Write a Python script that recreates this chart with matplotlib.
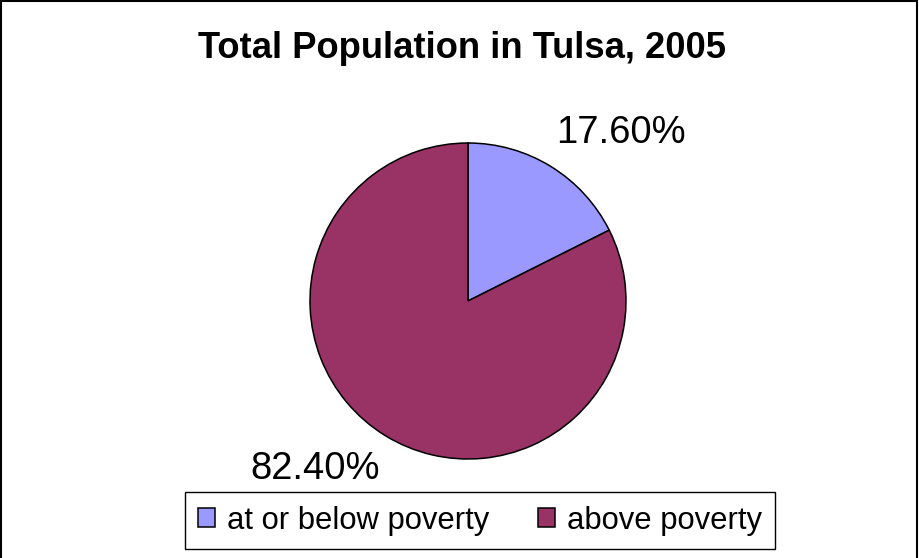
import numpy as np
import matplotlib
matplotlib.use("Agg")
import matplotlib.pyplot as plt
from matplotlib.patches import Rectangle

plt.rcParams['font.family'] = ['Liberation Sans', 'DejaVu Sans']

# data
categories = ['at or below poverty', 'above poverty']
shares = [17.6, 82.4]
slice_colors = ['#9999FF', '#993366']
chart_title = 'Total Population in Tulsa, 2005'

W, H = 919, 558
fig = plt.figure(figsize=(W / 100, H / 100), dpi=100)
fig.patch.set_facecolor('white')

# outer frame (bottom edge is cut off in the original)
fig.patches.append(Rectangle((0.5 / W, -0.01), (W - 2.5) / W, 1.01 - 0.5 / H,
                             transform=fig.transFigure, fill=False,
                             edgecolor='black', linewidth=1.5))

# pie centred at (468, 301) px with radius 158 px
cx, cy, r = 468, 301, 158
ax = fig.add_axes([(cx - r) / W, (H - cy - r) / H, 2 * r / W, 2 * r / H])
wedges, texts, autotexts = ax.pie(
    shares, colors=slice_colors, startangle=90, counterclock=False,
    autopct='%.2f%%', pctdistance=1.44,
    wedgeprops=dict(edgecolor='black', linewidth=1.1),
    textprops=dict(fontsize=27.5, color='black'))
ax.set_xlim(-1, 1)
ax.set_ylim(-1, 1)
ax.set_aspect('equal')
ax.axis('off')

# Excel-style label placement, shifted a little off the slice middle
for w, t in zip(wedges, autotexts):
    mid = np.deg2rad((w.theta1 + w.theta2) / 2 - 10.6)
    t.set_position((1.44 * np.cos(mid), 1.44 * np.sin(mid)))
    t.set_ha('center')
    t.set_va('center')
    t.set_clip_on(False)

fig.text(462 / W, 1 - 48 / H, chart_title, ha='center', va='center',
         fontsize=26.2, fontweight='bold')

leg = fig.legend(wedges, categories, loc='center',
                 bbox_to_anchor=(480 / W, 1 - 520.5 / H), ncol=2,
                 fontsize=22.3, frameon=True, fancybox=False, shadow=False,
                 framealpha=1, handlelength=0.55, handleheight=0.55,
                 handletextpad=0.4, columnspacing=1.55, borderpad=0.42,
                 borderaxespad=0)
leg.get_frame().set_edgecolor('black')
leg.get_frame().set_linewidth(1.0)

fig.savefig('out.png', dpi=100)
